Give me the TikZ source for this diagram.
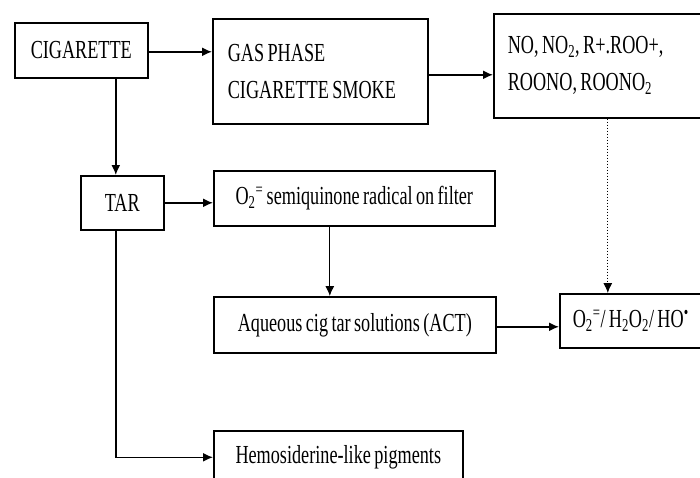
\documentclass[tikz,border=0pt]{standalone}
\usepackage{fontspec}
\setmainfont{Liberation Serif}[FakeStretch=0.7,WordSpace=0.75]
\usetikzlibrary{arrows.meta}
\frenchspacing
\begin{document}
\begin{tikzpicture}[x=1pt,y=-1pt,
  box/.style={draw, line width=1.6pt, anchor=north west, inner sep=0pt, font=\fontsize{26}{37}\selectfont},
  lbox/.style={box, align=flush left, inner xsep=15pt},
  arr/.style={line width=1.6pt, -{Latex[length=10pt,width=9pt]}},
  dot/.style={line width=1pt, dotted, -{Latex[length=10pt,width=9pt]}}]
\useasboundingbox (0,0) rectangle (700,477);
\node[box, minimum width=133, minimum height=55] (cig) at (14,22) {CIGARETTE};
\node[lbox, text width=185, minimum height=105] (gas) at (212,18) {GAS PHASE\\CIGARETTE SMOKE};
\node[lbox, text width=187, minimum height=104, inner xsep=14pt] (no) at (493,13) {NO, NO\textsubscript{2}, R+.ROO+,\\ROONO, ROONO\textsubscript{2}};
\node[box, minimum width=83, minimum height=54] (tar) at (80,175) {TAR};
\node[box, minimum width=281, minimum height=55] (semi) at (213,170) {O\textsubscript{2}\textsuperscript{=} semiquinone radical on filter};
\node[box, minimum width=282, minimum height=56] (act) at (213,296) {Aqueous cig tar solutions (ACT)};
\node[lbox, text width=125, minimum height=54, inner xsep=13pt] (o2) at (559,293) {\mbox{O\textsubscript{2}\textsuperscript{=}/ H\textsubscript{2}O\textsubscript{2}/ HO\textsuperscript{•}}};
\node[box, minimum width=249, minimum height=53] (hemo) at (213,430) {Hemosiderine-like pigments};
\draw[arr] ([yshift=-1.5pt]cig.east) -- ([yshift=-1.5pt]cig.east -| gas.west);
\draw[arr] ([yshift=-3.5pt]gas.east) -- ([yshift=-3.5pt]gas.east -| no.west);
\draw[arr] ([xshift=-6.5pt]cig.south -| tar.north) -- ([xshift=-6.5pt]tar.north);
\draw[arr] (tar.east) -- (tar.east -| semi.west);
\draw[line width=1pt, -{Latex[length=10pt,width=9pt]}] ([xshift=-24.5pt]semi.south) -- ([xshift=-24.5pt]semi.south |- act.north);
\draw[dot] ([xshift=6.5pt]no.south) -- ([xshift=6.5pt]no.south |- o2.north);
\draw[arr] ([yshift=-2pt]act.east) -- ([yshift=-2pt]act.east -| o2.west);
\draw[arr] ([xshift=-6.5pt]tar.south) |- (hemo.west);
\end{tikzpicture}
\end{document}
